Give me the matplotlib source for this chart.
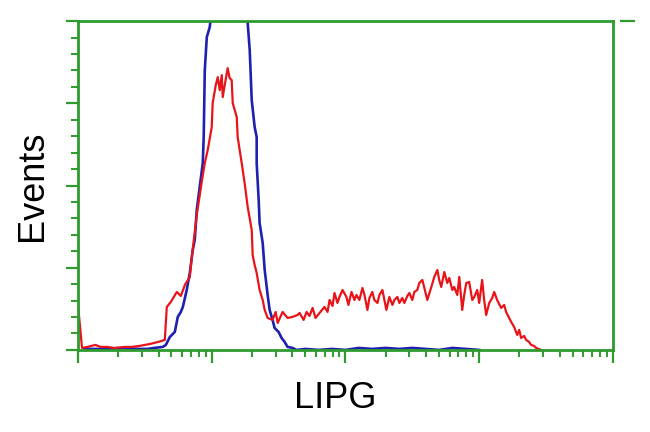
import numpy as np
import matplotlib
matplotlib.use("Agg")
from matplotlib import pyplot as plt
from matplotlib.ticker import LogLocator, MultipleLocator, NullFormatter

# LIPG-stained sample (red), log10 of fluorescence intensity and events
red_log = [0.00, 0.00, 0.03, 0.07, 0.13, 0.17, 0.22, 0.27, 0.35, 0.40, 0.46, 0.54, 0.60, 0.649,
           0.664, 0.694, 0.739, 0.769, 0.799, 0.836, 0.851, 0.888, 0.925, 0.948, 0.970,
           1.000, 1.007, 1.030, 1.045, 1.060, 1.075, 1.082, 1.104, 1.119, 1.134, 1.149,
           1.157, 1.172, 1.187, 1.194, 1.209, 1.224, 1.246, 1.269, 1.299, 1.306, 1.321,
           1.336, 1.358, 1.381, 1.396, 1.418, 1.455, 1.478, 1.493, 1.530, 1.567, 1.604,
           1.642, 1.657, 1.687, 1.709, 1.731, 1.754, 1.776, 1.806, 1.843, 1.866, 1.881,
           1.903, 1.918, 1.940, 1.955, 1.978, 2.007, 2.022, 2.045, 2.067, 2.082, 2.104,
           2.127, 2.142, 2.164, 2.179, 2.201, 2.216, 2.239, 2.254, 2.276, 2.291, 2.306,
           2.328, 2.351, 2.366, 2.388, 2.403, 2.425, 2.440, 2.463, 2.478, 2.500, 2.515,
           2.537, 2.552, 2.575, 2.597, 2.612, 2.642, 2.664, 2.687, 2.701, 2.716, 2.739,
           2.761, 2.776, 2.799, 2.813, 2.836, 2.851, 2.873, 2.888, 2.903, 2.925, 2.948,
           2.963, 2.985, 3.000, 3.022, 3.037, 3.052, 3.075, 3.097, 3.112, 3.134, 3.164,
           3.187, 3.201, 3.224, 3.239, 3.261, 3.284, 3.299, 3.313, 3.336, 3.351, 3.373,
           3.388, 3.410, 3.425, 3.463]
red_events = [0, 45, 2, 3, 5, 3, 3, 2, 3, 3, 4, 6, 8, 10,
              43, 48, 58, 54, 65, 73, 93, 135, 168, 187, 200,
              223, 247, 265, 273, 260, 275, 253, 270, 282, 272, 270,
              247, 240, 233, 213, 200, 187, 167, 143, 120, 95, 85,
              77, 60, 50, 40, 32, 30, 38, 27, 38, 32, 33,
              35, 37, 30, 38, 34, 42, 32, 37, 43, 38, 50,
              44, 57, 47, 53, 60, 53, 45, 58, 50, 55, 50,
              62, 55, 40, 52, 58, 50, 47, 55, 60, 50, 40,
              53, 45, 50, 53, 47, 52, 47, 54, 57, 50, 58,
              60, 67, 70, 58, 50, 63, 73, 80, 70, 63, 78,
              67, 72, 60, 63, 55, 73, 40, 55, 67, 68, 50,
              53, 60, 47, 70, 50, 35, 47, 52, 58, 50, 42,
              45, 38, 32, 28, 23, 15, 20, 12, 14, 10, 8,
              5, 4, 2, 0]

# isotype control (blue)
blue_log = [0.05, 0.15, 0.25, 0.35, 0.45, 0.52, 0.57, 0.634, 0.657, 0.687, 0.709, 0.724,
            0.746, 0.769, 0.784, 0.813, 0.836, 0.858, 0.873, 0.888, 0.910, 0.933, 0.940,
            0.948, 0.963, 0.985, 1.000, 1.045, 1.119, 1.209, 1.254, 1.269, 1.284, 1.299,
            1.321, 1.336, 1.336, 1.351, 1.358, 1.381, 1.396, 1.418, 1.433, 1.455, 1.470,
            1.500, 1.522, 1.545, 1.567, 1.604, 1.634, 1.70, 1.80, 1.90, 2.00, 2.10, 2.20,
            2.30, 2.40, 2.50, 2.60, 2.70, 2.80, 2.90, 3.00]
blue_events = [1, 1, 1, 2, 1, 1, 2, 3, 5, 13, 16, 18,
               33, 38, 43, 60, 77, 100, 110, 140, 163, 187, 213,
               280, 313, 323, 340, 390, 410, 390, 340, 327, 300, 250,
               223, 213, 187, 150, 127, 107, 80, 55, 40, 30, 22,
               18, 12, 8, 3, 2, 0, 1, 0, 1, 0, 2, 1,
               2, 1, 2, 1, 0, 2, 1, 0]

green = "#2f9a2f"
plt.rcParams['font.family'] = ['Liberation Sans', 'DejaVu Sans']

fig = plt.figure(figsize=(6.5, 4.32), dpi=100)
ax = fig.add_axes([0.12, 0.19, 0.823, 0.761])

ax.plot(10 ** np.array(blue_log), blue_events, color="#2020b0", lw=1.9)
ax.plot(10 ** np.array(red_log), red_events, color="#e8141a", lw=1.6)

ax.set_xscale("log")
ax.set_xlim(1, 10 ** 4)
ax.set_ylim(0, 329)
ax.xaxis.set_major_locator(LogLocator(base=10, numticks=10))
ax.xaxis.set_minor_locator(LogLocator(base=10, subs=np.arange(2, 10), numticks=20))
ax.xaxis.set_major_formatter(NullFormatter())
ax.xaxis.set_minor_formatter(NullFormatter())
ax.yaxis.set_major_locator(MultipleLocator(329 / 4))
ax.yaxis.set_minor_locator(MultipleLocator(329 / 20))
ax.yaxis.set_major_formatter(NullFormatter())

for sp in ax.spines.values():
    sp.set_color(green)
    sp.set_linewidth(2)
ax.tick_params(which="major", direction="out", length=9, width=1.6, color=green)
ax.tick_params(which="minor", direction="out", length=5, width=1.4, color=green)
ax.plot([1.015, 1.04], [1.0, 1.0], transform=ax.transAxes, color=green, lw=1.6, clip_on=False)

ax.set_xlabel("LIPG", fontsize=26)
ax.xaxis.set_label_coords(0.48, -0.095)
ax.set_ylabel("Events", fontsize=26, labelpad=8)

fig.savefig("out.png", dpi=100, facecolor="white")
